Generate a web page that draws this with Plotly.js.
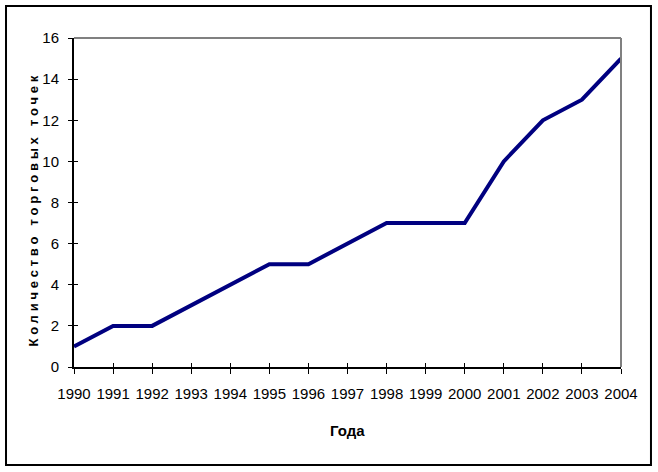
<!DOCTYPE html>
<html>
<head>
<meta charset="utf-8">
<script src="https://cdn.plot.ly/plotly-3.0.1.min.js"></script>
<style>
html,body{margin:0;padding:0;background:#fff;}
#chart{width:658px;height:472px;}
.ytl text{letter-spacing:3.8px;}
</style>
</head>
<body>
<div id="chart"></div>
<script>
var years = [1990,1991,1992,1993,1994,1995,1996,1997,1998,1999,2000,2001,2002,2003,2004];
var counts = [1,2,2,3,4,5,5,6,7,7,7,10,12,13,15];
var yTitle = "Количество торговых точек";
var xTitle = "Года";

var fam = "Liberation Sans, Arial, sans-serif";

var trace = {
  x: years, y: counts, type: "scatter", mode: "lines",
  line: {color: "#000080", width: 4}, hoverinfo: "skip"
};
var dummy = {x: years, y: counts, xaxis: "x2", yaxis: "y2", type: "scatter", mode: "lines",
  line: {color: "rgba(0,0,0,0)", width: 0}, hoverinfo: "skip"};

var layout = {
  width: 658, height: 472,
  margin: {l: 74, r: 37, t: 38, b: 105},
  paper_bgcolor: "#fff", plot_bgcolor: "#fff",
  font: {family: fam, size: 12, color: "#000"},
  showlegend: false,
  xaxis: {
    range: [1990, 2004], tickmode: "linear", tick0: 1990, dtick: 1, tickangle: 0,
    showgrid: false, zeroline: false, showline: true, linecolor: "#000", linewidth: 2,
    ticks: "outside", ticklen: 5, tickcolor: "#000", tickwidth: 1,
    ticklabelstandoff: 7,
    tickfont: {family: fam, size: 15}
  },
  yaxis: {
    range: [0, 16], tickmode: "linear", tick0: 0, dtick: 2,
    showgrid: false, zeroline: false, showline: true, linecolor: "#000", linewidth: 2,
    ticks: "outside", ticklen: 4, tickcolor: "#000", tickwidth: 1,
    ticklabelstandoff: 6,
    tickfont: {family: fam, size: 15}
  },
  xaxis2: {overlaying: "x", range: [1990, 2004], tickmode: "linear", tick0: 1990, dtick: 1,
    showgrid: false, zeroline: false, showline: false, showticklabels: false,
    ticks: "inside", ticklen: 4, tickcolor: "#000", tickwidth: 1, anchor: "y2"},
  yaxis2: {overlaying: "y", range: [0, 16], tickmode: "linear", tick0: 0, dtick: 2,
    showgrid: false, zeroline: false, showline: false, showticklabels: false,
    ticks: "inside", ticklen: 4, tickcolor: "#000", tickwidth: 1, anchor: "x2"},
  annotations: [
    {text: yTitle, xref: "paper", yref: "paper", x: -0.075, y: 0.48,
     xanchor: "center", yanchor: "middle", textangle: -90, showarrow: false,
     font: {size: 13, family: fam, weight: "bold"}},
    {text: xTitle, xref: "paper", yref: "paper", x: 0.5, y: -0.1915,
     xanchor: "center", yanchor: "middle", showarrow: false,
     font: {size: 15, family: fam, weight: "bold"}}
  ],
  shapes: [
    {type: "line", xref: "x domain", yref: "y domain", x0: 0, x1: 1, y0: 1, y1: 1, line: {color: "#808080", width: 2}},
    {type: "line", xref: "x domain", yref: "y domain", x0: 1, x1: 1, y0: 0, y1: 1, line: {color: "#808080", width: 2}},
    {type: "rect", xref: "paper", yref: "paper", x0: -0.1243, x1: 1.0548, y0: -0.2979, y1: 1.0973, line: {color: "#000", width: 2}}
  ]
};

Plotly.newPlot("chart", [trace, dummy], layout, {staticPlot: true, displayModeBar: false}).then(function(){
  var ann = document.querySelectorAll(".annotation")[0];
  if (ann) ann.classList.add("ytl");
});
</script>
</body>
</html>
